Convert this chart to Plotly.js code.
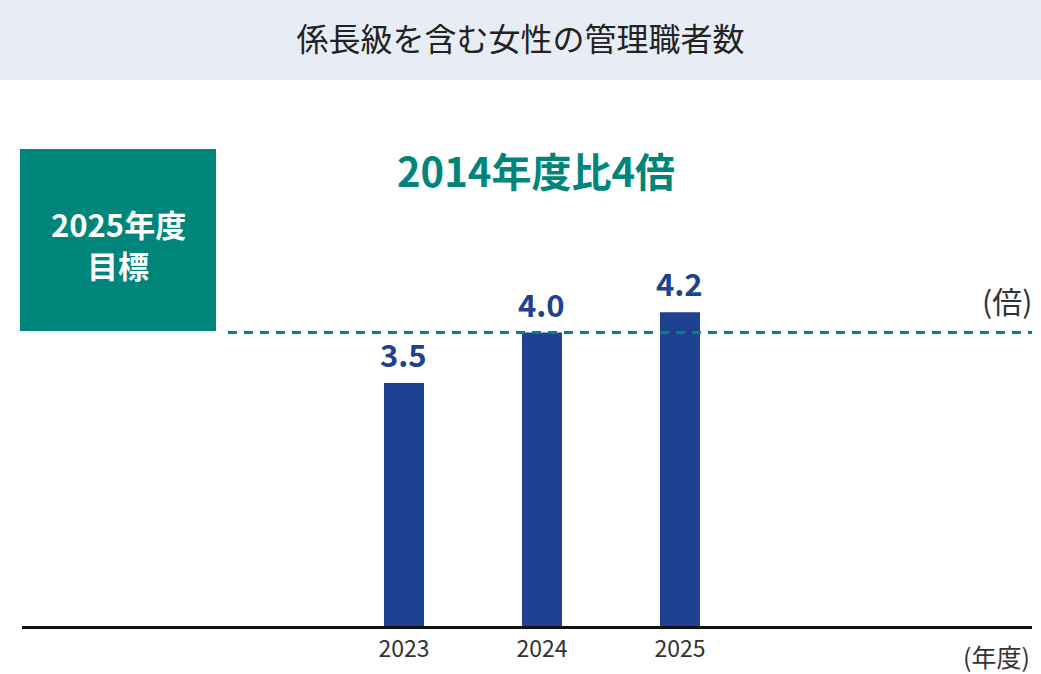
<!DOCTYPE html>
<html>
<head>
<meta charset="utf-8">
<script src="https://cdn.plot.ly/plotly-3.0.1.min.js"></script>
<style>html,body{margin:0;padding:0;background:#fff;}#chart{width:1041px;height:674px;}</style>
</head>
<body>
<div id="chart"></div>
<script>
// Data
const years = ['2023', '2024', '2025'];
const ratios = [3.5, 4.0, 4.2];
const targetRatio = 4.0;
const chartTitle = '係長級を含む女性の管理職者数';
const targetLabelLines = ['2025年度', '目標'];
const targetNote = '2014年度比4倍';
const yUnit = '(倍)';
const xUnit = '(年度)';

const W = 1041, H = 674;
const L = 22, R = 9, T = 80, B = 48;
const teal = '#00857a';
const navy = '#1e4192';
const font = '"Noto Sans CJK JP", "Noto Sans", sans-serif';
const px = x => (x - L) / (W - L - R);
const py = y => (H - B - y) / (H - T - B);

const annotations = years.map((yr, i) => ({
  x: i, y: ratios[i], xref: 'x', yref: 'y',
  text: ratios[i].toFixed(1), showarrow: false,
  xanchor: 'center', yanchor: 'bottom', yshift: 5,
  font: {family: font, size: 31, color: navy, weight: 700}
}));

targetLabelLines.forEach((t, i) => annotations.push(
  {x: px(118), y: py(224 + i * 40), xref: 'paper', yref: 'paper', text: t, showarrow: false,
   font: {family: font, size: 31, color: '#ffffff', weight: 700},
   xanchor: 'center', yanchor: 'middle'}
));

annotations.push(
  {x: px(536), y: py(170), xref: 'paper', yref: 'paper', text: targetNote, showarrow: false,
   font: {family: font, size: 40, color: teal, weight: 700}, xanchor: 'center', yanchor: 'middle'},
  {x: px(1007), y: py(300), xref: 'paper', yref: 'paper', text: yUnit, showarrow: false,
   font: {family: font, size: 30, color: '#333333'}, xanchor: 'center', yanchor: 'middle'},
  {x: px(996), y: py(656), xref: 'paper', yref: 'paper', text: xUnit, showarrow: false,
   font: {family: font, size: 25, color: '#333333'}, xanchor: 'center', yanchor: 'middle'}
);

const trace = {
  type: 'bar', x: years, y: ratios,
  width: 0.29,
  marker: {color: navy},
  hoverinfo: 'x+y'
};

const layout = {
  width: W, height: H,
  margin: {l: L, r: R, t: T, b: B, pad: 0},
  paper_bgcolor: '#ffffff', plot_bgcolor: '#ffffff',
  showlegend: false,
  title: {text: chartTitle, x: 0.5, xanchor: 'center', xref: 'container',
          y: 1 - 40 / H, yref: 'container', yanchor: 'middle',
          font: {family: font, size: 32, color: '#222222'}},
  xaxis: {type: 'category', range: [-2.768, 4.551], showgrid: false, zeroline: false,
          showline: true, linecolor: '#111111', linewidth: 3, ticks: '',
          tickfont: {family: font, size: 23, color: '#333333'}, fixedrange: true},
  yaxis: {range: [1.094, 6.5], showgrid: false, zeroline: false, showline: false,
          showticklabels: false, ticks: '', fixedrange: true},
  shapes: [
    {type: 'rect', xref: 'paper', yref: 'paper', x0: px(0), x1: px(W), y0: py(0), y1: py(80),
     fillcolor: '#e8ecf5', line: {width: 0}, layer: 'below'},
    {type: 'rect', xref: 'paper', yref: 'paper', x0: px(20), x1: px(216), y0: py(149), y1: py(331),
     fillcolor: teal, line: {width: 0}, layer: 'below'},
    {type: 'line', xref: 'paper', yref: 'y', x0: px(228), x1: 1, y0: targetRatio, y1: targetRatio,
     line: {color: teal, width: 3, dash: '9px,7px'}, layer: 'above'}
  ],
  annotations: annotations
};

Plotly.newPlot('chart', [trace], layout, {displayModeBar: false, staticPlot: true});
</script>
</body>
</html>
